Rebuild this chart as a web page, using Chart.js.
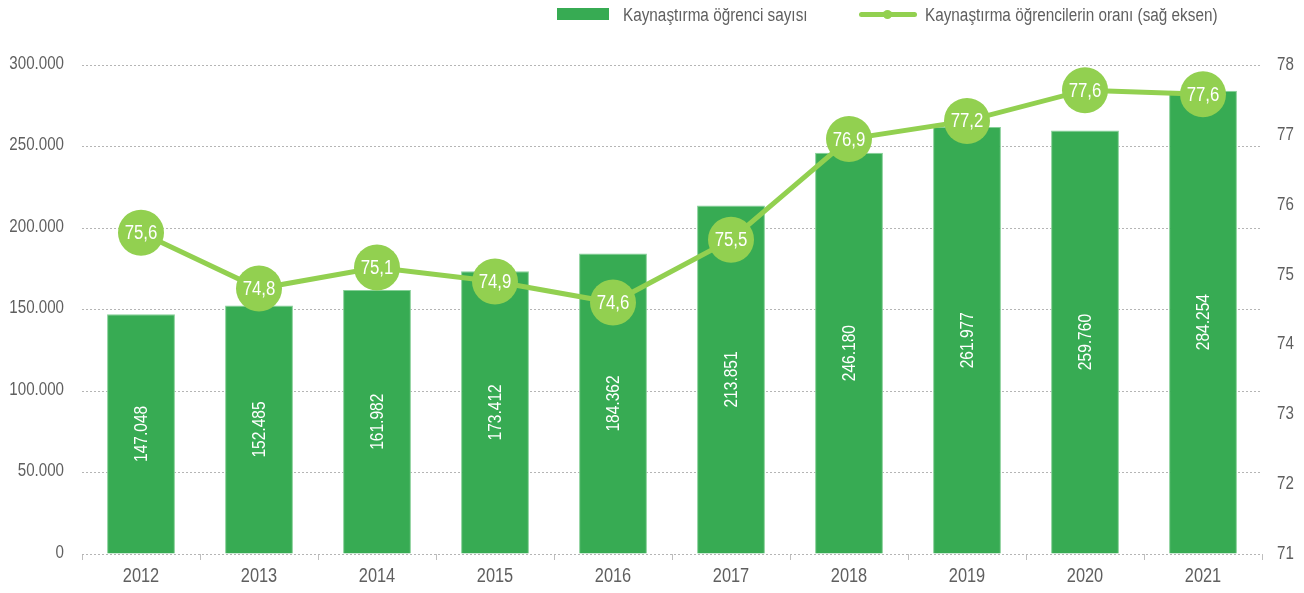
<!DOCTYPE html>
<html lang="tr">
<head>
<meta charset="utf-8">
<script src="https://cdn.jsdelivr.net/npm/chart.js@4"></script>
<style>
  html, body { margin: 0; padding: 0; background: #fff; }
  #wrap { position: relative; width: 1304px; height: 593px; }
  #legend { position: absolute; top: 3px; left: 557px; font: 18px 'Liberation Sans', Arial, sans-serif; color: #5f5f5f; white-space: nowrap; }
  .item { position: absolute; top: 0; height: 24px; line-height: 24px; }
  .item .txt { position: absolute; top: 0; transform: scaleX(0.85); transform-origin: left center; }
  .box { position: absolute; left: 0; top: 5px; width: 52px; height: 12px; background: #37ab53; }
  .ln { position: absolute; left: 0; top: 9px; width: 58px; height: 5px; background: #92d050; border-radius: 3px; }
  .dot { position: absolute; left: 24px; top: 7px; width: 9px; height: 9px; border-radius: 50%; background: #92d050; }
</style>
</head>
<body>
<div id="wrap">
  <canvas id="combo" width="1304" height="593"></canvas>
  <div id="legend">
    <div class="item" style="left:0"><span class="box"></span><span class="txt" style="left:66px">Kaynaştırma öğrenci sayısı</span></div>
    <div class="item" style="left:302px"><span class="ln"></span><span class="dot"></span><span class="txt" style="left:66px">Kaynaştırma öğrencilerin oranı (sağ eksen)</span></div>
  </div>
</div>
<script>
// values
const years = ['2012','2013','2014','2015','2016','2017','2018','2019','2020','2021'];
const studentCounts = [147048, 152485, 161982, 173412, 184362, 213851, 246180, 261977, 259760, 284254];
const studentRatio = [75.6, 74.8, 75.1, 74.9, 74.6, 75.5, 76.94, 77.2, 77.64, 77.58];

const FONT = "'Liberation Sans', Arial, sans-serif";
const GREY = '#5f5f5f';
const NARROW = 0.84; // the original uses a condensed face, squeeze text horizontally

function thousands(v) {
  return String(Math.round(v)).replace(/\B(?=(\d{3})+(?!\d))/g, '.');
}

function narrowText(ctx, text, x, y, rotate) {
  ctx.save();
  ctx.translate(x, y);
  if (rotate) ctx.rotate(-Math.PI / 2);
  ctx.scale(NARROW, 1);
  ctx.fillText(text, 0, 0);
  ctx.restore();
}

// axis tick labels, drawn by hand so they can be condensed
const axisText = {
  id: 'axisText',
  afterDraw(chart) {
    const ctx = chart.ctx;
    const { x, y, y1 } = chart.scales;
    ctx.save();
    ctx.fillStyle = GREY;
    ctx.textBaseline = 'middle';
    ctx.font = '18px ' + FONT;
    ctx.textAlign = 'right';
    y.ticks.forEach(t => narrowText(ctx, thousands(t.value), 64, y.getPixelForValue(t.value) - 1));
    ctx.textAlign = 'left';
    y1.ticks.forEach(t => narrowText(ctx, String(t.value), 1277, y1.getPixelForValue(t.value)));
    ctx.textAlign = 'center';
    ctx.font = '19.5px ' + FONT;
    years.forEach((lab, i) => narrowText(ctx, lab, x.getPixelForValue(i), 577));
    ctx.restore();
  }
};

// white labels inside bars and circles
const valueLabels = {
  id: 'valueLabels',
  afterDatasetsDraw(chart) {
    const ctx = chart.ctx;
    ctx.save();
    ctx.fillStyle = '#ffffff';
    ctx.textAlign = 'center';
    ctx.textBaseline = 'middle';
    ctx.font = '18.5px ' + FONT;
    chart.getDatasetMeta(0).data.forEach((bar, i) => {
      const p = bar.getProps(['x', 'y', 'base'], true);
      narrowText(ctx, thousands(studentCounts[i]), p.x + 1, (p.y + p.base) / 2, true);
    });
    ctx.font = '20px ' + FONT;
    chart.getDatasetMeta(1).data.forEach((pt, i) => {
      narrowText(ctx, studentRatio[i].toFixed(1).replace('.', ','), pt.x, pt.y + 1);
    });
    ctx.restore();
  }
};

new Chart(document.getElementById('combo'), {
  type: 'bar',
  data: {
    labels: years,
    datasets: [{
      type: 'bar',
      data: studentCounts,
      backgroundColor: '#37ab53',
      borderColor: '#86cf97',
      borderWidth: 1,
      categoryPercentage: 1,
      barPercentage: 0.575,
      yAxisID: 'y',
      order: 2
    }, {
      type: 'line',
      data: studentRatio,
      borderColor: '#92d050',
      borderWidth: 5,
      pointRadius: 23,
      pointBackgroundColor: '#92d050',
      pointBorderWidth: 0,
      tension: 0,
      yAxisID: 'y1',
      order: 1
    }]
  },
  options: {
    responsive: false,
    animation: false,
    layout: { padding: { top: 65, left: 0, right: 0, bottom: 0 } },
    plugins: { legend: { display: false }, tooltip: { enabled: false } },
    scales: {
      x: {
        offset: true,
        grid: { drawOnChartArea: false, drawTicks: true, tickLength: 6, color: '#bfbfbf' },
        border: { display: false, dash: [2, 2] },
        ticks: { display: false },
        afterFit(s) { s.height = 39; }
      },
      y: {
        position: 'left',
        min: 0, max: 300000,
        ticks: { stepSize: 50000, display: false },
        grid: { color: '#b5b5b5', drawTicks: false },
        border: { display: false, dash: [2, 2] },
        afterFit(s) { s.width = 82; }
      },
      y1: {
        position: 'right',
        min: 71, max: 78,
        ticks: { stepSize: 1, display: false },
        grid: { display: false },
        border: { display: false },
        afterFit(s) { s.width = 42; }
      }
    }
  },
  plugins: [valueLabels, axisText]
});
</script>
</body>
</html>
